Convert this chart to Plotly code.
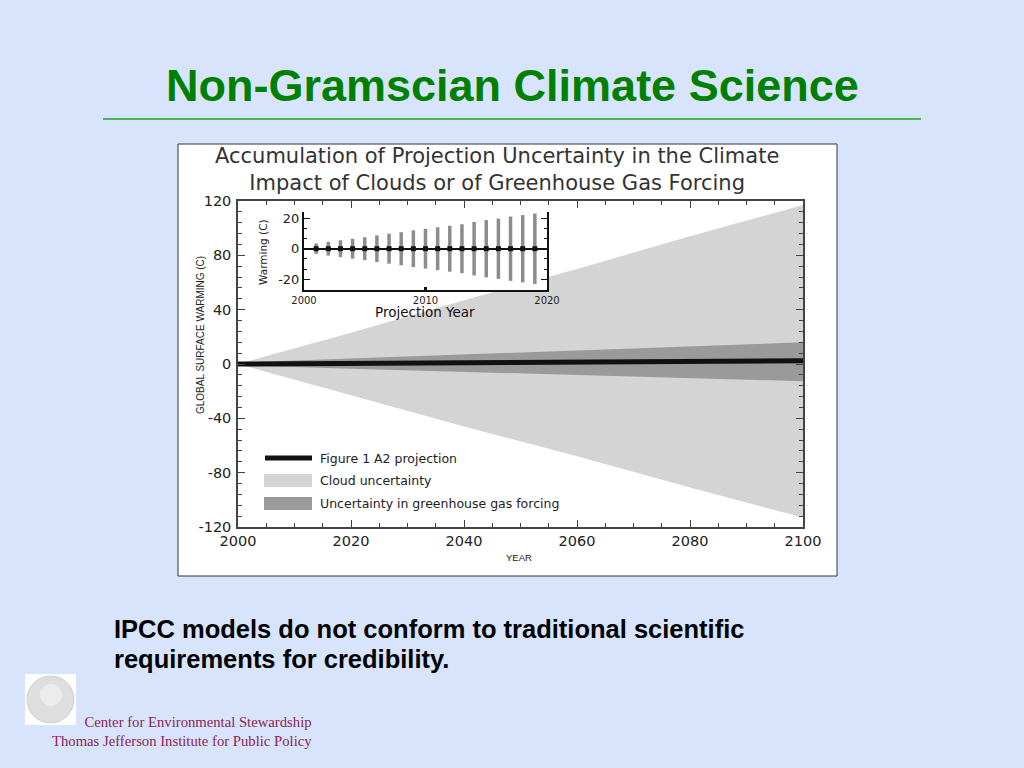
import plotly.graph_objects as go

W, H = 1024, 768

# main chart data
years = [2000, 2020, 2040, 2060, 2080, 2100]
a2_projection = [0, 0.4, 0.9, 1.4, 1.9, 2.4]
cloud_upper = [0, 23, 47, 70, 94, 117]
cloud_lower = [0, -23, -46, -68, -91, -113]
ghg_upper = [1, 4, 7, 10, 13, 16]
ghg_lower = [-1, -3.5, -6, -8, -10.5, -12.7]

# inset data: projection year vs cloud uncertainty half-width
inset_years = list(range(2001, 2020))
inset_center = [0] * 19
inset_half = [3.4, 4.5, 5.5, 6.5, 7.5, 8.7, 9.8, 10.8, 12, 13,
              14, 15, 16, 17.5, 18.7, 19.7, 21, 22, 23]

x_ticks = [2000, 2020, 2040, 2060, 2080, 2100]
y_ticks = [-120, -80, -40, 0, 40, 80, 120]
y_tick_labels = ["-120", "-80", "-40", "0", "40", "80", "120"]
inset_y_ticks = [-20, 0, 20]
inset_y_labels = ["-20", "0", "20"]

legend_names = ["Figure 1 A2 projection", "Cloud uncertainty",
                "Uncertainty in greenhouse gas forcing"]


def px(x):
    return x / W


def py(y):
    return 1 - y / H


TICK_FONT = dict(family="DejaVu Sans", size=14.5, color="#222")
CLOUD = "#d4d4d4"
GHG = "#9a9a9a"

fig = go.Figure()

# cloud uncertainty fan
fig.add_trace(go.Scatter(
    x=years + years[::-1],
    y=cloud_upper + cloud_lower[::-1],
    fill="toself", fillcolor=CLOUD, line=dict(width=0),
    mode="lines", name=legend_names[1], hoverinfo="skip",
))
# greenhouse gas forcing band
fig.add_trace(go.Scatter(
    x=years + years[::-1],
    y=ghg_upper + ghg_lower[::-1],
    fill="toself", fillcolor=GHG, line=dict(width=0),
    mode="lines", name=legend_names[2], hoverinfo="skip",
))
# A2 projection
fig.add_trace(go.Scatter(
    x=years, y=a2_projection, mode="lines",
    line=dict(color="#111", width=5), name=legend_names[0],
))

# inset
fig.add_trace(go.Scatter(
    x=inset_years, y=inset_center, mode="markers",
    marker=dict(symbol="square", size=5, color="#111"),
    error_y=dict(type="data", array=inset_half, symmetric=True,
                 color="#8c8c8c", thickness=3.5, width=0),
    xaxis="x2", yaxis="y2",
))

fig.update_layout(
    width=W, height=H, autosize=False,
    margin=dict(l=0, r=0, t=0, b=0, autoexpand=False),
    paper_bgcolor="#d7e4fb",
    plot_bgcolor="white",
    showlegend=False,
    xaxis=dict(
        domain=[px(238), px(803)], range=[2000, 2100], automargin=False,
        tickvals=x_ticks, ticks="inside", ticklen=7, tickcolor="#444",
        minor=dict(dtick=5, tick0=2000, ticks="inside", ticklen=4, tickcolor="#444"),
        showline=True, linecolor="#444", linewidth=1.5, mirror="ticks",
        showgrid=False, zeroline=False, tickfont=TICK_FONT,
    ),
    yaxis=dict(
        domain=[py(527), py(201)], range=[-120, 120], automargin=False,
        tickvals=y_ticks, ticktext=y_tick_labels,
        ticks="inside", ticklen=7, tickcolor="#444",
        minor=dict(dtick=8, tick0=0, ticks="inside", ticklen=4, tickcolor="#444"),
        showline=True, linecolor="#444", linewidth=1.5, mirror="ticks",
        showgrid=False, zeroline=False, tickfont=TICK_FONT, ticklabelstandoff=2,
    ),
    xaxis2=dict(
        domain=[px(304), px(547)], range=[2000, 2020], anchor="y2",
        automargin=False,
        tickvals=[2000, 2010, 2020], ticks="inside", ticklen=3, tickwidth=3,
        tickcolor="#111",
        showline=True, linecolor="#111", linewidth=2, mirror=False,
        showgrid=False, zeroline=False,
        tickfont=dict(family="DejaVu Sans", size=10, color="#222"),
    ),
    yaxis2=dict(
        domain=[py(290), py(212)], range=[-27, 24], anchor="x2",
        automargin=False,
        tickvals=inset_y_ticks, ticktext=inset_y_labels,
        ticks="inside", ticklen=6, tickcolor="#111",
        minor=dict(dtick=20 / 3, tick0=0, ticks="inside", ticklen=3, tickcolor="#111"),
        showline=True, linecolor="#111", linewidth=2, mirror="ticks",
        showgrid=False, zeroline=True, zerolinecolor="#111", zerolinewidth=2,
        tickfont=dict(family="DejaVu Sans", size=13, color="#222"),
    ),
)

shapes = [
    # chart panel
    dict(type="rect", layer="below",
         x0=px(178), x1=px(837), y0=py(576), y1=py(144),
         fillcolor="white", line=dict(color="#333", width=1)),
    # rule under slide title
    dict(type="line", x0=px(103), x1=px(921), y0=py(119), y1=py(119),
         line=dict(color="#1fa51f", width=1.5)),
    # logo
    dict(type="rect", x0=px(25), x1=px(76), y0=py(725), y1=py(674),
         fillcolor="white", line=dict(width=0)),
    dict(type="circle", x0=px(27), x1=px(74), y0=py(723), y1=py(676),
         fillcolor="#dedede", line=dict(color="#cfcfcf", width=1)),
    dict(type="circle", x0=px(40), x1=px(62), y0=py(706), y1=py(684),
         fillcolor="#ececec", line=dict(width=0)),
    # legend keys
    dict(type="line", x0=px(265), x1=px(312), y0=py(458), y1=py(458),
         line=dict(color="#111", width=5)),
    dict(type="rect", x0=px(264), x1=px(312), y0=py(487), y1=py(474),
         fillcolor=CLOUD, line=dict(width=0)),
    dict(type="rect", x0=px(264), x1=px(312), y0=py(510), y1=py(497),
         fillcolor=GHG, line=dict(width=0)),
]
for s in shapes:
    s.update(xref="paper", yref="paper")
fig.update_layout(shapes=shapes)

annotations = [
    dict(text="<b>Non-Gramscian Climate Science</b>", x=px(512), y=py(86),
         font=dict(family="Liberation Sans", size=45, color="#008000")),
    dict(text="Accumulation of Projection Uncertainty in the Climate<br>"
              "Impact of Clouds or of Greenhouse Gas Forcing",
         x=px(497), y=py(169),
         font=dict(family="DejaVu Sans", size=21, color="#333")),
    dict(text="GLOBAL SURFACE WARMING (C)", x=px(200), y=py(335),
         textangle=-90,
         font=dict(family="Liberation Sans", size=10, color="#222")),
    dict(text="YEAR", x=px(519), y=py(557),
         font=dict(family="Liberation Sans", size=9.5, color="#222")),
    dict(text="Warming (C)", x=px(263), y=py(252), textangle=-90,
         font=dict(family="DejaVu Sans", size=10.5, color="#222")),
    dict(text="Projection Year", x=px(425), y=py(312),
         font=dict(family="DejaVu Sans", size=13.5, color="#111")),
    dict(text="<b>IPCC models do not conform to traditional scientific</b>",
         x=px(112), y=py(629), xanchor="left",
         font=dict(family="Liberation Sans", size=25.5, color="black")),
    dict(text="<b>requirements for credibility.</b>",
         x=px(112), y=py(659), xanchor="left",
         font=dict(family="Liberation Sans", size=25.5, color="black")),
    dict(text="Center for Environmental Stewardship<br>"
              "Thomas Jefferson Institute for Public Policy",
         x=px(314), y=py(731), align="right", xanchor="right",
         font=dict(family="Liberation Serif", size=14.7, color="#8e2456")),
]
legend_y = [458, 480, 503]
for name, ly in zip(legend_names, legend_y):
    annotations.append(dict(
        text=name, x=px(318), y=py(ly), xanchor="left",
        font=dict(family="DejaVu Sans", size=12.5, color="#222"),
    ))
for a in annotations:
    a.setdefault("xanchor", "center")
    a.update(xref="paper", yref="paper", showarrow=False, yanchor="middle")
fig.update_layout(annotations=annotations)

fig.write_html("out.html", config={"displayModeBar": False},
               post_script="document.body.style.margin='0';")
